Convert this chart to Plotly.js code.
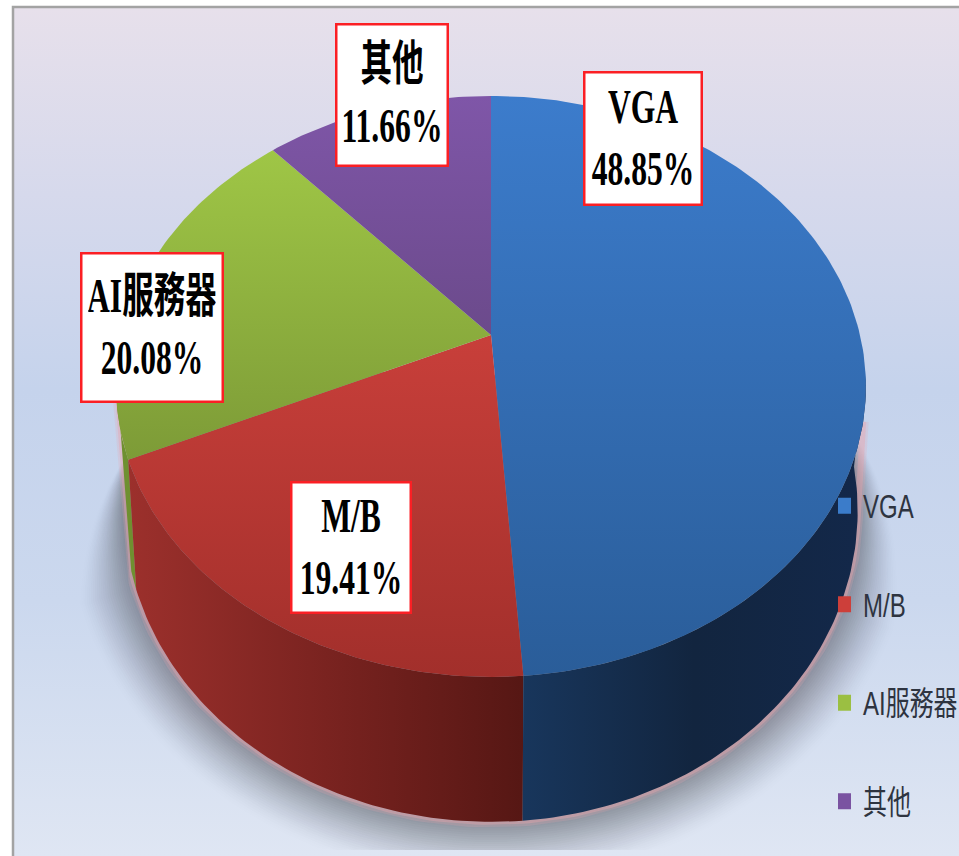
<!DOCTYPE html>
<html><head><meta charset="utf-8">
<script src="https://cdn.plot.ly/plotly-3.0.1.min.js"></script>
<style>html,body{margin:0;padding:0;background:#fff}#c{width:959px;height:856px}
.annotation-text{transform-box:fill-box;transform-origin:center;transform:scale(.93,1.4)}
.legendtext{transform-box:fill-box;transform-origin:left center;transform:scale(.96,1.3)}
</style>
</head><body><div id="c"></div>
<script>
const categories = ['VGA', 'M/B', 'AI服務器', '其他'];
const shares = [48.85, 19.41, 20.08, 11.66];
const swatchColors = ['#3b7cca', '#cd3f3a', '#9bbf42', '#7a53a1'];
const topColors = [['#3c7ccc', '#2a5d99'], ['#c83f3a', '#a22f2b'], ['#9fc646', '#7d9b37'], ['#7f56a8', '#6b4a8b']];
const wallColors = [['#18365c', '#12253f', '#13284a'], ['#9c302c', '#7a2320', '#561714'], ['#6f9030', '#6f9030', '#6f9030'], null];
const labelBoxes = [[642.5, 138.5, 113, 128], [350.5, 547.5, 115, 126], [151.5, 327.5, 137, 144], [391.5, 95, 107, 137]];

// perspective projection of the pie disc
const A = 369, B = 281.4, K = -0.177, CX = 491, CY = 335;
function rim(deg) {
  const t = deg * Math.PI / 180, u = Math.sin(t), v = -Math.cos(t), d = 1 + K * v;
  return [CX + A * u / d, CY + B * v / d];
}
function floorRim(deg) {
  const p = rim(deg);
  return [CX + (p[0] - CX) * 0.978, 456 + (p[1] - CY) * 1.07];
}
function arc(fn, a, b) {
  const n = Math.max(2, Math.ceil(Math.abs(b - a))), out = [];
  for (let i = 0; i <= n; i++) out.push(fn(a + (b - a) * i / n));
  return out;
}
function poly(points, extra) {
  return Object.assign({
    type: 'scatter', mode: 'lines', x: points.map(p => p[0]), y: points.map(p => p[1]),
    fill: 'toself', line: { width: 0, color: 'rgba(0,0,0,0)' }, hoverinfo: 'skip', showlegend: false
  }, extra || {});
}
const scale2 = (a, b) => [[0, a], [1, b]];
const scale3 = (a, b, c) => [[0, a], [0.5, b], [1, c]];

const traces = [];
// background panel
traces.push(poly([[13, 8], [959, 8], [959, 856], [13, 856], [13, 8]], {
  fillgradient: { type: 'vertical', colorscale: [[0, '#dfe6f3'], [0.3, '#cbd8ee'], [0.55, '#c5d3ec'], [0.78, '#d6d9ec'], [1, '#e7e0eb']] }
}));
// frame
traces.push({ type: 'scatter', mode: 'lines', x: [13, 13, 959], y: [856, 7, 7], line: { color: '#a3a3a3', width: 2.5 }, hoverinfo: 'skip', showlegend: false });

// cumulative angles
const angles = [0];
shares.forEach(s => angles.push(angles[angles.length - 1] + s * 3.6));

// soft shadow under the cylinder
const LAYERS = 26;
for (let l = LAYERS; l >= 1; l--) {
  const t = l / LAYERS, pts = [rim(100)];
  for (let a = 80; a <= 272; a += 2) {
    const p = floorRim(a);
    const e = Math.max(0, Math.min(1, (a - 80) / 38, (272 - a) / 26));
    const dx = p[0] - 491, dy = p[1] - 480, r = Math.hypot(dx, dy), off = 58 * t * e;
    pts.push([p[0] + dx / r * off, Math.min(850, p[1] + dy / r * off)]);
  }
  pts.push(rim(264));
  traces.push(poly(pts, { fillcolor: 'rgba(104,106,114,' + (0.066 * (1 - t * 0.9)).toFixed(4) + ')' }));
}
// pink glow along the lower edge
const glow = [rim(262)].concat(arc(floorRim, 249, 100), [rim(107)]);
[[11, 0.22], [6, 0.4]].forEach(g => traces.push({
  type: 'scatter', mode: 'lines', x: glow.map(p => p[0]), y: glow.map(p => p[1]),
  line: { color: 'rgba(232,165,172,' + g[1] + ')', width: g[0] }, hoverinfo: 'skip', showlegend: false
}));

// side walls
function wall(from, to, floorFrom, floorTo, cols) {
  const pts = arc(rim, from, to).concat(arc(floorRim, floorTo, floorFrom));
  traces.push(poly(pts.concat([pts[0]]), { fillgradient: { type: 'horizontal', colorscale: scale3(cols[0], cols[1], cols[2]) } }));
}
wall(angles[2], 262, angles[2], 249, wallColors[2]);
wall(angles[1], angles[2], angles[1], angles[2], wallColors[1]);
wall(98, angles[1], 92, angles[1], wallColors[0]);

// top faces
categories.forEach((c, i) => {
  const pts = [[CX, CY]].concat(arc(rim, angles[i], angles[i + 1]), [[CX, CY]]);
  traces.push(poly(pts, {
    name: c, fillgradient: { type: 'vertical', colorscale: scale2(topColors[i][1], topColors[i][0]) },
    text: c, hoverinfo: 'text'
  }));
});

// legend entries
categories.forEach((c, i) => {
  traces.push({
    type: 'scatter', mode: 'markers', x: [null], y: [null], name: c, legendgroup: c,
    marker: { symbol: 'square', size: 19, color: swatchColors[i] }, showlegend: true, hoverinfo: 'skip'
  });
});

const labelFont = { family: '"Liberation Serif","Noto Sans CJK TC",serif', size: 34, color: '#000', weight: 'bold' };
const annotations = categories.map((c, i) => ({
  xref: 'x', yref: 'y', x: labelBoxes[i][0], y: labelBoxes[i][1], xanchor: 'center', yanchor: 'middle',
  width: labelBoxes[i][2], height: labelBoxes[i][3], align: 'center', valign: 'middle',
  text: c + '<br>' + shares[i].toFixed(2) + '%', showarrow: false,
  bgcolor: '#ffffff', bordercolor: '#fb1f24', borderwidth: 2.5, borderpad: 1, font: labelFont
}));

const layout = {
  width: 959, height: 856, margin: { l: 0, r: 0, t: 0, b: 0, autoexpand: false },
  paper_bgcolor: '#ffffff', plot_bgcolor: 'rgba(0,0,0,0)', hovermode: 'closest',
  xaxis: { range: [0, 959], visible: false, fixedrange: true },
  yaxis: { range: [856, 0], visible: false, fixedrange: true },
  showlegend: true,
  legend: {
    x: 838 / 959, y: 1 - 483 / 856, xanchor: 'left', yanchor: 'top', bgcolor: 'rgba(0,0,0,0)',
    font: { family: '"Liberation Sans","Noto Sans CJK TC",sans-serif', size: 25, color: '#2e3440' },
    tracegroupgap: 63, indentation: -15, itemclick: false, itemdoubleclick: false, traceorder: 'grouped'
  },
  annotations: annotations
};
Plotly.newPlot('c', traces, layout, { displayModeBar: false, staticPlot: false });
</script></body></html>
